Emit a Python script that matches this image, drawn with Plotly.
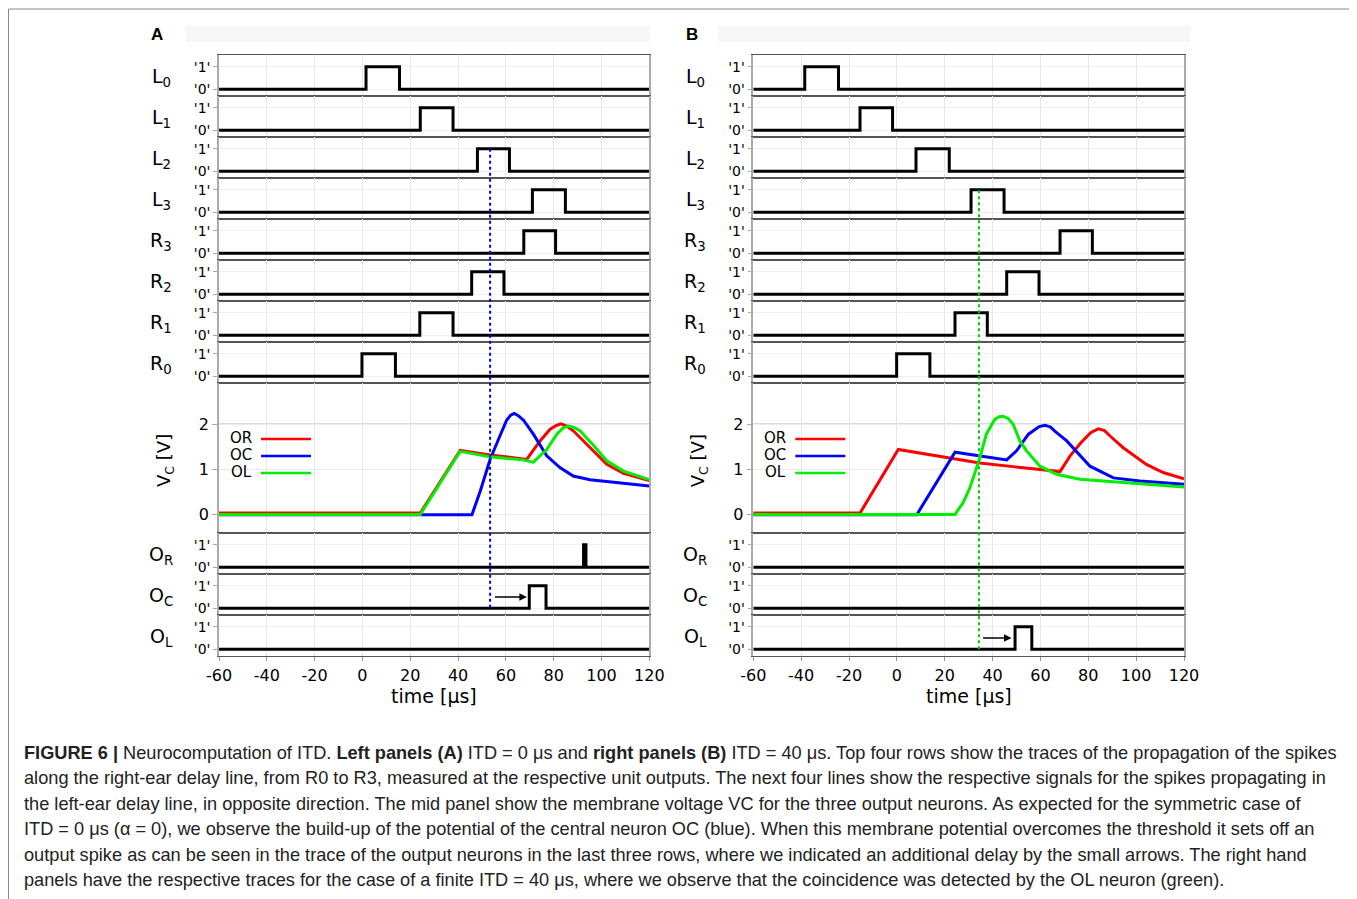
import plotly.graph_objects as go

W, H = 1357, 899
T_MIN, T_MAX = -60, 120

# ---------------- data ----------------
DELAY_ROWS = ["L<sub>0</sub>", "L<sub>1</sub>", "L<sub>2</sub>", "L<sub>3</sub>",
              "R<sub>3</sub>", "R<sub>2</sub>", "R<sub>1</sub>", "R<sub>0</sub>"]
OUTPUT_ROWS = ["O<sub>R</sub>", "O<sub>C</sub>", "O<sub>L</sub>"]

# spike start / end times [µs] for each delay-line row
A_START = [1.5, 24.2, 48.1, 71.1, 67.5, 45.7, 24.0, -0.2]
A_END = [15.5, 37.9, 61.5, 84.9, 80.8, 59.2, 37.9, 13.8]
B_START = [-38.5, -15.4, 8.0, 31.0, 68.2, 45.9, 24.3, -0.1]
B_END = [-24.4, -1.8, 21.9, 44.8, 81.7, 59.4, 37.8, 13.8]

# output spikes (None = no spike)
A_OUT_START = [92.5, 69.8, None]
A_OUT_END = [93.5, 76.8, None]
B_OUT_START = [None, None, 49.4]
B_OUT_END = [None, None, 56.4]

# membrane voltages VC [V]
A_OR_T = [-60, 24.2, 40.9, 53.4, 68.7, 74.3, 78.5, 81.0, 83.0, 85.5, 88.3, 95.2, 102.2, 109.2, 116.1, 120]
A_OR_V = [0.03, 0.03, 1.42, 1.32, 1.22, 1.63, 1.89, 1.97, 2.01, 1.96, 1.85, 1.48, 1.11, 0.91, 0.80, 0.75]
A_OC_T = [-60, 45.8, 49.3, 53.4, 57.5, 60.3, 62.0, 63.5, 65.2, 67.4, 71.5, 77.1, 82.6, 88.2, 95.2, 106.3, 120]
A_OC_V = [-0.01, -0.01, 0.52, 1.22, 1.74, 2.09, 2.20, 2.24, 2.19, 2.09, 1.78, 1.30, 1.04, 0.85, 0.77, 0.70, 0.63]
A_OL_T = [-60, 24.2, 40.9, 53.4, 67.0, 71.5, 77.1, 81.3, 84.0, 86.2, 88.5, 91.1, 96.7, 102.2, 109.2, 116.1, 120]
A_OL_V = [0.0, 0.0, 1.40, 1.28, 1.21, 1.16, 1.44, 1.78, 1.92, 1.96, 1.93, 1.85, 1.53, 1.19, 0.96, 0.83, 0.77]

B_OR_T = [-60, -15.4, 0.6, 20.7, 34.6, 48.5, 68.2, 72.4, 76.9, 81.1, 84.2, 86.8, 89.1, 94.6, 104.3, 111.3, 120]
B_OR_V = [0.03, 0.03, 1.44, 1.26, 1.14, 1.06, 0.95, 1.30, 1.59, 1.82, 1.90, 1.86, 1.74, 1.48, 1.11, 0.93, 0.79]
B_OC_T = [-60, 8.3, 24.3, 35.0, 45.9, 50.0, 55.0, 59.5, 61.9, 64.2, 66.0, 71.0, 80.7, 90.5, 101.6, 120]
B_OC_V = [-0.01, -0.01, 1.38, 1.30, 1.21, 1.41, 1.78, 1.95, 1.98, 1.94, 1.85, 1.63, 1.07, 0.81, 0.74, 0.67]
B_OL_T = [-60, 24.3, 27.7, 30.5, 31.9, 34.7, 37.4, 40.9, 42.8, 44.4, 46.5, 48.6, 51.4, 54.2, 59.8, 66.7, 76.5, 97.4, 120]
B_OL_V = [0.0, 0.0, 0.26, 0.59, 0.81, 1.26, 1.78, 2.11, 2.17, 2.18, 2.13, 2.00, 1.63, 1.41, 1.07, 0.89, 0.78, 0.70, 0.61]

X_TICKS = [-60, -40, -20, 0, 20, 40, 60, 80, 100, 120]
X_TICK_TEXT = ["-60", "-40", "-20", "0", "20", "40", "60", "80", "100", "120"]
VC_TICKS = [0, 1, 2]
THRESHOLD = 2

A_MARK_T = 53.4   # dotted marker line
B_MARK_T = 34.3
A_ARROW = (54.8, 68.8)
B_ARROW = (35.4, 47.9)

CAPTION = [
    "<b>FIGURE 6 |</b> Neurocomputation of ITD. <b>Left panels (A)</b> ITD = 0 μs and <b>right panels (B)</b> ITD = 40 μs. Top four rows show the traces of the propagation of the spikes",
    "along the right-ear delay line, from R0 to R3, measured at the respective unit outputs. The next four lines show the respective signals for the spikes propagating in",
    "the left-ear delay line, in opposite direction. The mid panel show the membrane voltage VC for the three output neurons. As expected for the symmetric case of",
    "ITD = 0 μs (α = 0), we observe the build-up of the potential of the central neuron OC (blue). When this membrane potential overcomes the threshold it sets off an",
    "output spike as can be seen in the trace of the output neurons in the last three rows, where we indicated an additional delay by the small arrows. The right hand",
    "panels have the respective traces for the case of a finite ITD = 40 μs, where we observe that the coincidence was detected by the OL neuron (green).",
]

# ---------------- layout helpers ----------------
ROW_EDGES_PX = [54.3, 95.3, 136.3, 177.3, 218.3, 259.3, 300.3, 341.3, 382.3,
                532.3, 573.3, 614.3, 655.3]
PANEL_X_PX = [(219.0, 649.3), (753.3, 1184.0)]
VC_ROW = 8
FONT = "DejaVu Sans"
OFF_X, OFF_Y = 8, 7   # page offset of the plot div


def fy(px):
    return 1 - (px - OFF_Y) / H


def fx(px):
    return (px - OFF_X) / W


fig = go.Figure()
layout = dict(width=W, height=H, autosize=False, template="none",
              margin=dict(l=0, r=0, t=0, b=0, pad=0),
              paper_bgcolor="white", plot_bgcolor="white",
              showlegend=False, font=dict(family=FONT, color="black"))
annotations = []
shapes = []

COLORS = {"OR": "#ff0000", "OC": "#0000ff", "OL": "#00ee00"}

panels = [
    dict(start=A_START, end=A_END, ostart=A_OUT_START, oend=A_OUT_END,
         vc=[("OR", A_OR_T, A_OR_V), ("OC", A_OC_T, A_OC_V), ("OL", A_OL_T, A_OL_V)],
         letter="A", mark=A_MARK_T, mark_color="#0000ff", mark_px=(147.7, 606.7),
         arrow=A_ARROW, arrow_row=10),
    dict(start=B_START, end=B_END, ostart=B_OUT_START, oend=B_OUT_END,
         vc=[("OR", B_OR_T, B_OR_V), ("OC", B_OC_T, B_OC_V), ("OL", B_OL_T, B_OL_V)],
         letter="B", mark=B_MARK_T, mark_color="#00cc00", mark_px=(188.7, 648.3),
         arrow=B_ARROW, arrow_row=11),
]

for p, pan in enumerate(panels):
    x0px, x1px = PANEL_X_PX[p]
    row_labels = DELAY_ROWS + [None] + OUTPUT_ROWS
    starts = pan["start"] + [None] + pan["ostart"]
    ends = pan["end"] + [None] + pan["oend"]
    for r in range(12):
        n = p * 12 + r + 1
        top, bot = ROW_EDGES_PX[r], ROW_EDGES_PX[r + 1]
        last = r == 11
        xa = dict(domain=[fx(x0px), fx(x1px)], anchor=f"y{n}", automargin=False,
                  range=[T_MIN, T_MAX], tickvals=X_TICKS, ticktext=X_TICK_TEXT,
                  showgrid=True, gridcolor="#e6e6e6", gridwidth=1,
                  zeroline=False, showline=True, linecolor="#555", linewidth=1,
                  mirror=True, showticklabels=last,
                  ticks="outside" if last else "", ticklen=4, tickcolor="#999",
                  tickfont=dict(size=16, family=FONT))
        if r == VC_ROW:
            ya = dict(domain=[fy(bot), fy(top)], anchor=f"x{n}", automargin=False,
                      range=[-0.42, 2.91], tickvals=VC_TICKS,
                      ticktext=[str(v) for v in VC_TICKS],
                      showgrid=True, gridcolor="#ececec", zeroline=False,
                      showline=True, linecolor="#aaa", linewidth=1.5, mirror=True,
                      ticks="outside", ticklen=5, tickcolor="#aaa",
                      tickfont=dict(size=16, family=FONT))
        else:
            ya = dict(domain=[fy(bot), fy(top)], anchor=f"x{n}", automargin=False,
                      range=[-0.31, 1.5], tickvals=[0, 1], ticktext=["'0'", "'1'"],
                      showgrid=True, gridcolor="#f0f0f0", zeroline=False,
                      showline=True, linecolor="#aaa", linewidth=1.5, mirror=True,
                      ticks="outside", ticklen=4, tickcolor="#aaa",
                      tickfont=dict(size=14, family=FONT))
        key = "" if n == 1 else str(n)
        layout["xaxis" + key] = xa
        layout["yaxis" + key] = ya

        if r == VC_ROW:
            for name, tt, vv in pan["vc"]:
                fig.add_trace(go.Scatter(x=tt, y=vv, mode="lines",
                                         line=dict(color=COLORS[name], width=3),
                                         xaxis=f"x{n}", yaxis=f"y{n}",
                                         hoverinfo="skip"))
            shapes.append(dict(type="line", xref=f"x{n} domain", x0=0, x1=1,
                               yref=f"y{n}", y0=THRESHOLD, y1=THRESHOLD,
                               line=dict(color="#555", width=1), layer="below"))
            # legend
            lx = x0px + 35
            for k, (name, _, _) in enumerate(pan["vc"]):
                ypx = 437 + 17 * k
                annotations.append(dict(x=fx(lx), y=fy(ypx), xref="paper", yref="paper",
                                        text=name, showarrow=False, xanchor="right",
                                        yanchor="middle", font=dict(size=15, family=FONT)))
                shapes.append(dict(type="line", xref="paper", yref="paper",
                                   x0=fx(lx + 7), x1=fx(lx + 57), y0=fy(ypx + 1), y1=fy(ypx + 1),
                                   line=dict(color=COLORS[name], width=2.5)))
            annotations.append(dict(x=fx(x0px - 54), y=fy(460), xref="paper", yref="paper",
                                    text="V<sub>C</sub> [V]", textangle=-90, showarrow=False,
                                    xanchor="center", yanchor="middle",
                                    font=dict(size=18, family=FONT)))
        else:
            s, e = starts[r], ends[r]
            if s is None:
                xs, ys = [T_MIN, T_MAX], [0, 0]
            else:
                xs, ys = [T_MIN, s, e, T_MAX], [0, 1, 0, 0]
            fig.add_trace(go.Scatter(x=xs, y=ys, mode="lines",
                                     line=dict(color="black", width=3, shape="hv"),
                                     xaxis=f"x{n}", yaxis=f"y{n}", hoverinfo="skip"))
            annotations.append(dict(x=fx(x0px - 58), y=fy((top + bot) / 2 + 2),
                                    xref="paper", yref="paper", text=row_labels[r],
                                    xanchor="center", yanchor="middle",
                                    showarrow=False, font=dict(size=19, family=FONT)))

    # dotted marker line
    nvc = p * 12 + VC_ROW + 1
    shapes.append(dict(type="line", xref=f"x{nvc}", yref="paper",
                       x0=pan["mark"], x1=pan["mark"],
                       y0=fy(pan["mark_px"][1]), y1=fy(pan["mark_px"][0]),
                       line=dict(color=pan["mark_color"], width=2, dash="dot"),
                       layer="above"))
    # arrow
    na = p * 12 + pan["arrow_row"] + 1
    annotations.append(dict(x=pan["arrow"][1], y=0.5, ax=pan["arrow"][0], ay=0.5,
                            xref=f"x{na}", yref=f"y{na}", axref=f"x{na}", ayref=f"y{na}",
                            text="", showarrow=True, arrowhead=2, arrowsize=1,
                            arrowwidth=1.5, arrowcolor="black"))
    # x axis title
    annotations.append(dict(x=fx((x0px + x1px) / 2), y=fy(695), xref="paper", yref="paper",
                            text="time [µs]", showarrow=False,
                            xanchor="center", yanchor="middle",
                            font=dict(size=19, family=FONT)))
    # panel letter and header band
    band = [(186, 650), (718, 1190)][p]
    shapes.append(dict(type="rect", xref="paper", yref="paper",
                       x0=fx(band[0]), x1=fx(band[1]), y0=fy(41), y1=fy(25),
                       fillcolor="#f6f6f6", line=dict(width=0), layer="below"))
    annotations.append(dict(x=fx([157, 692][p]), y=fy(34), xref="paper", yref="paper",
                            text=f"<b>{pan['letter']}</b>", showarrow=False,
                            xanchor="center", yanchor="middle",
                            font=dict(size=17, family="Liberation Sans")))

# figure frame
shapes.append(dict(type="rect", xref="paper", yref="paper",
                   x0=fx(8.5), x1=fx(1350), y0=-0.02, y1=fy(8),
                   line=dict(color="#888", width=1)))

# caption
for i, line in enumerate(CAPTION):
    annotations.append(dict(x=fx(22), y=fy(752 + 25.4 * i), xref="paper", yref="paper",
                            text=line, showarrow=False, xanchor="left", yanchor="middle",
                            font=dict(size=18.2, family="Liberation Sans", color="#222")))

layout["annotations"] = annotations
layout["shapes"] = shapes
fig.update_layout(**layout)
fig.write_html("out.html")
